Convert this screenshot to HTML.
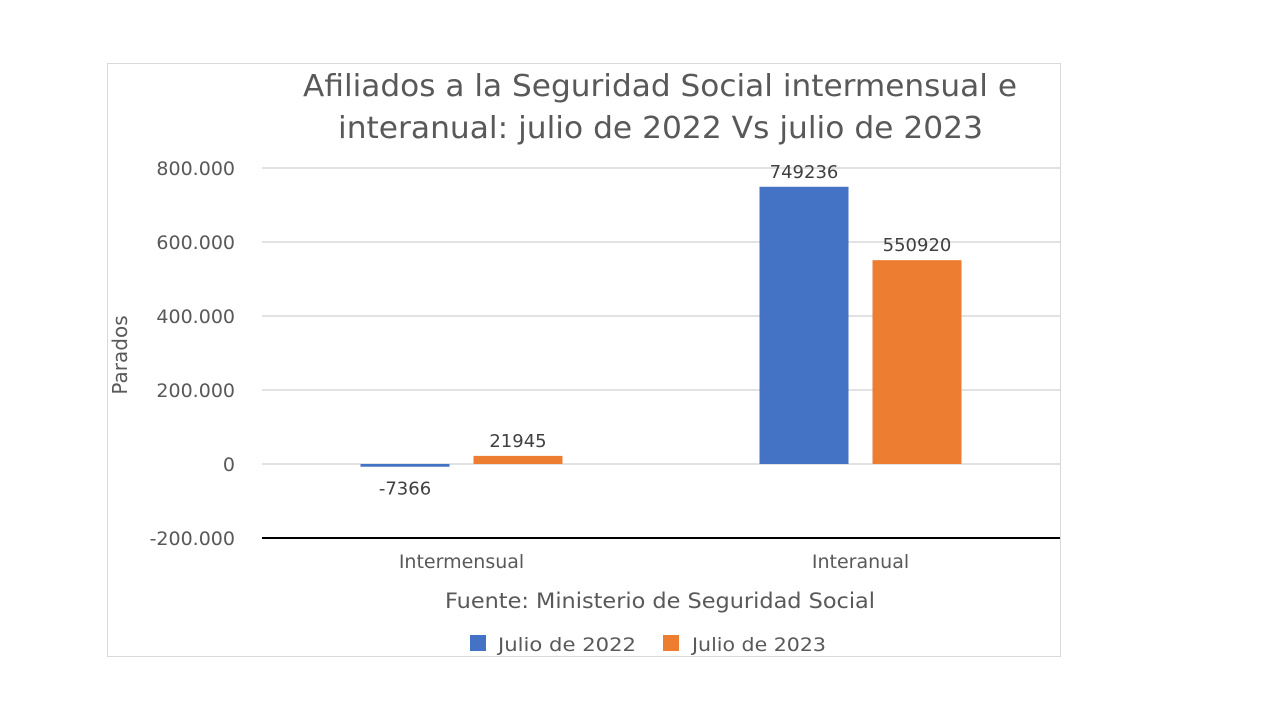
<!DOCTYPE html>
<html><head><meta charset="utf-8"><style>
body{margin:0;background:#fff;width:1264px;height:698px;overflow:hidden;font-family:"DejaVu Sans","Liberation Sans",sans-serif}
</style></head><body>
<svg width="1264" height="698" xmlns="http://www.w3.org/2000/svg">
<rect x="107.5" y="63.5" width="953" height="593" fill="#fff" stroke="#d9d9d9"/>
<text x="303" y="96" font-size="30" fill="#595959" textLength="714" lengthAdjust="spacingAndGlyphs">Afiliados a la Seguridad Social intermensual e</text>
<text x="338" y="138" font-size="30" fill="#595959" textLength="645" lengthAdjust="spacingAndGlyphs">interanual: julio de 2022 Vs julio de 2023</text>
<text transform="translate(127,355) rotate(-90)" font-size="20" fill="#595959" text-anchor="middle">Parados</text>
<g id="grid"></g><g id="bars"></g><g id="labels"></g>
<text x="445" y="608" font-size="21" fill="#595959" textLength="430" lengthAdjust="spacingAndGlyphs">Fuente: Ministerio de Seguridad Social</text>
<g>
<rect x="470" y="635" width="16" height="16" fill="#4472c4"/>
<text x="498" y="651" font-size="19" fill="#595959" textLength="138" lengthAdjust="spacingAndGlyphs">Julio de 2022</text>
<rect x="663" y="635" width="16" height="16" fill="#ed7d31"/>
<text x="692" y="651" font-size="19" fill="#595959" textLength="134" lengthAdjust="spacingAndGlyphs">Julio de 2023</text>
</g>
</svg>
<script>
const categories=["Intermensual","Interanual"];
const series2022=[-7366,749236];
const series2023=[21945,550920];
const ticks=[-200000,0,200000,400000,600000,800000];
const tickLabels=["-200.000","0","200.000","400.000","600.000","800.000"];
const NS="http://www.w3.org/2000/svg";
const x0=262,x1=1060,y0=464,k=296/800000;
const y=v=>y0-v*k;
const catW=(x1-x0)/categories.length;
function mk(t,a,p){const e=document.createElementNS(NS,t);for(const n in a)e.setAttribute(n,a[n]);p.appendChild(e);return e;}
const g=document.getElementById('grid'),b=document.getElementById('bars'),l=document.getElementById('labels');
ticks.forEach((t,i)=>{
 const ln=mk('line',{x1:x0,x2:x1,y1:y(t),y2:y(t),stroke:t===ticks[0]?'#000':'#d9d9d9','stroke-width':t===ticks[0]?2:1.5},g);
 
 
 const tx=mk('text',{x:x0-27,y:y(t)+7,'font-size':19,fill:'#595959','text-anchor':'end'},g);
 
 
 tx.textContent=tickLabels[i];
});
const bw=89,gap=24;
categories.forEach((c,i)=>{
 const cx=x0+catW*(i+0.5);
 [[series2022,'#4472c4',cx-gap/2-bw],[series2023,'#ed7d31',cx+gap/2]].forEach(([s,col,bx])=>{
  const v=s[i];
  const r=mk('rect',{x:bx,y:Math.min(y(v),y0),width:bw,height:Math.abs(y(v)-y0),fill:col},b);
  
  
  const t=mk('text',{x:bx+bw/2,y:v>=0?y(v)-9:y(v)+28,'font-size':18,fill:'#404040','text-anchor':'middle'},l);
  
  
  t.textContent=v;
 });
 const ct=mk('text',{x:cx,y:568,'font-size':19,fill:'#595959','text-anchor':'middle'},l);
 
 
 ct.textContent=c;
});
</script>
</body></html>
